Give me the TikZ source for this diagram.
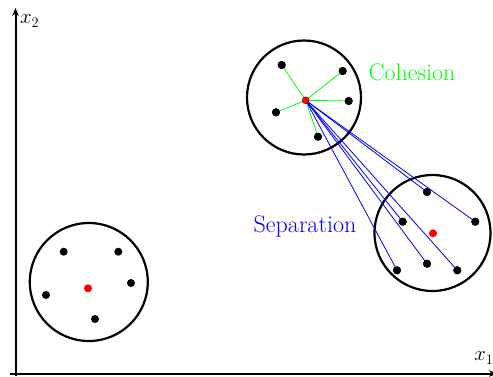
\documentclass[tikz,border=0pt]{standalone}
\usetikzlibrary{arrows.meta}
\begin{document}
\begin{tikzpicture}[x=1pt,y=-1pt,
  axis/.style={line width=2pt,-{Stealth[length=8pt,width=6.5pt]}},
  cluster/.style={draw,circle,line width=2.2pt,minimum size=#1,inner sep=0pt},
  pt/.style={circle,fill=black,inner sep=0pt,minimum size=8pt},
  cen/.style={circle,fill=red,inner sep=0pt,minimum size=8pt},
  coh/.style={green,line width=0.8pt},
  sep/.style={blue,line width=0.8pt},
  lbl/.style={font=\fontsize{24}{28}\selectfont}]
\useasboundingbox (0,0) rectangle (493,376);
% axes
\coordinate (o1) at (15.5,376);
\coordinate (ytip) at (15.5,8);
\coordinate (o2) at (10,373.5);
\coordinate (xtip) at (497,373.5);
\draw[axis] (o1) -- (ytip);
\draw[axis] (o2) -- (xtip);
\node[anchor=west,inner sep=1pt,font=\fontsize{21}{24}\selectfont] (x2) at (19,21) {$x_2$};
\node[font=\fontsize{21}{24}\selectfont] (x1) at (484,358) {$x_1$};
% clusters
\node[cluster=114pt] (C1) at (304,97.5) {};
\node[cluster=116pt] (C2) at (432.5,233) {};
\node[cluster=118pt] (C3) at (88.8,282) {};
% cluster 1 points
\node[pt] (a1) at (281.7,65) {};
\node[pt] (a2) at (342.7,71) {};
\node[pt] (a3) at (348.7,101) {};
\node[pt] (a4) at (276,112.3) {};
\node[pt] (a5) at (318,136.7) {};
% cluster 2 points
\node[pt] (b1) at (427,192) {};
\node[pt] (b2) at (475.3,221.7) {};
\node[pt] (b3) at (402.7,221.7) {};
\node[pt] (b4) at (427,263.7) {};
\node[pt] (b5) at (397,270.3) {};
\node[pt] (b6) at (457.3,270.3) {};
\node[cen] (m2) at (433,233.3) {};
% cluster 3 points
\node[pt] (c1) at (63.7,251.7) {};
\node[pt] (c2) at (118.3,251.7) {};
\node[pt] (c3) at (131,283) {};
\node[pt] (c4) at (46,295) {};
\node[pt] (c5) at (95,319) {};
\node[cen] (m3) at (88,288.3) {};
% centroid of cluster 1
\coordinate (m1) at (305.7,100.3);
\foreach \p in {a1,a2,a3,a4,a5} \draw[coh] (m1) -- (\p.center);
\foreach \p in {b1,b2,b3,b4,b5,b6} \draw[sep] (m1) -- (\p.center);
\foreach \p in {a1,a2,a3,a4,a5,b1,b2,b3,b4,b5,b6} \fill (\p) circle (4pt);
\node[cen,minimum size=7pt,draw=black!60!red,line width=0.4pt] (m1n) at (m1) {};
% labels
\node[lbl,text=green] (coh) at (412,72) {Cohesion};
\node[lbl,text=blue] (sep) at (305,226) {Separation};
\end{tikzpicture}
\end{document}
